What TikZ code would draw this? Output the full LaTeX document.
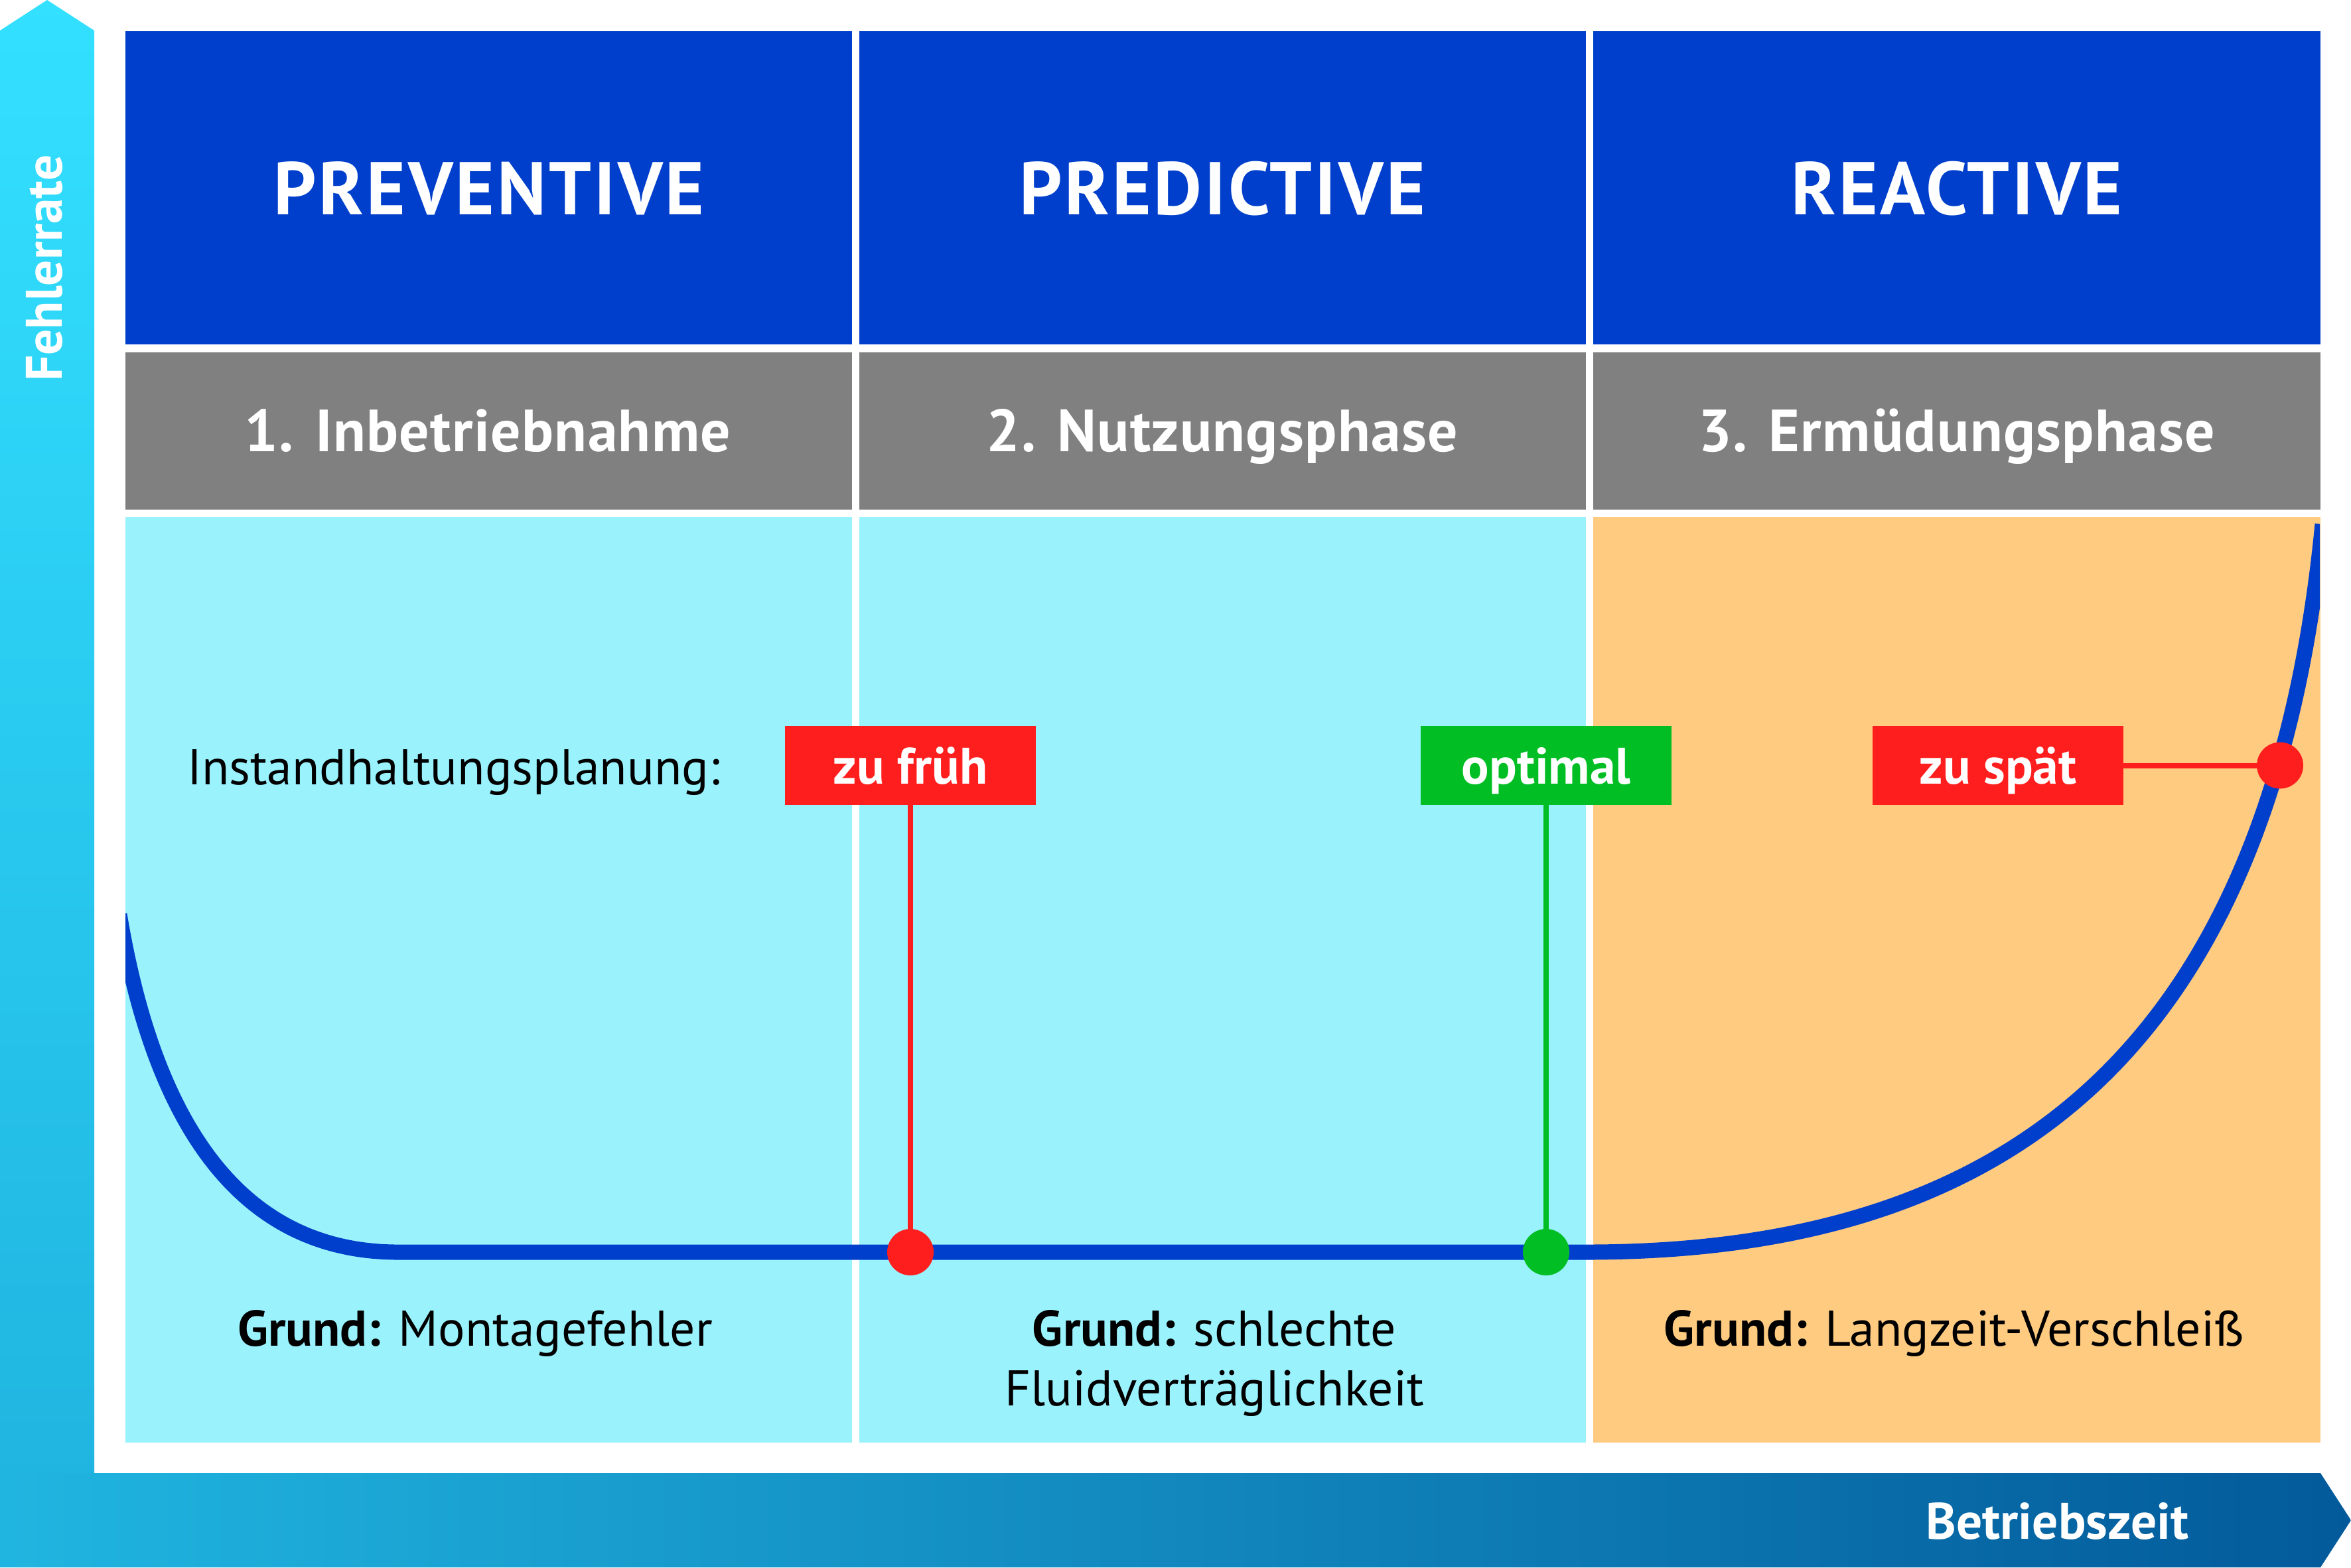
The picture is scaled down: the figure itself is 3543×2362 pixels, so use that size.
\documentclass[tikz,border=0pt]{standalone}
\usepackage{fontspec}
\setmainfont{PT Sans}
\definecolor{hdrblue}{HTML}{003FCC}
\definecolor{graybar}{HTML}{808080}
\definecolor{lightcyan}{HTML}{9AF2FD}
\definecolor{lightorange}{HTML}{FECB80}
\definecolor{mred}{HTML}{FF1E1E}
\definecolor{mgreen}{HTML}{00BE23}
\definecolor{axtop}{HTML}{33E0FF}
\definecolor{axcorner}{HTML}{20B5E0}
\definecolor{axend}{HTML}{035A9B}
\begin{document}
\begin{tikzpicture}[x=0.01cm,y=-0.01cm,
  every node/.style={inner sep=0pt, outer sep=0pt},
  hdrcell/.style={fill=hdrblue, minimum width=10.94cm, minimum height=4.72cm, anchor=north west},
  graycell/.style={fill=graybar, minimum width=10.94cm, minimum height=2.37cm, anchor=north west},
  bodycell/.style={minimum width=10.94cm, minimum height=13.94cm, anchor=north west},
  hdrtxt/.style={anchor=base, text=white, font=\bfseries\fontsize{32}{38}\selectfont\addfontfeature{LetterSpace=3.5}},
  phasetxt/.style={anchor=base, text=white, font=\bfseries\fontsize{25.5}{30}\selectfont\addfontfeature{LetterSpace=1.5}},
  tagbox/.style={minimum width=3.78cm, minimum height=1.19cm, text height=16pt, text depth=0pt, text=white, font=\bfseries\fontsize{22}{26}\selectfont},
  axtxt/.style={text=white, font=\bfseries\fontsize{22}{26}\selectfont},
  bodytxt/.style={anchor=base, text=black, font=\fontsize{21.5}{26}\selectfont},
  curve/.style={draw=hdrblue, line width=6.54pt},
  pin/.style={line width=2.28pt},
  dot/.style={circle, minimum size=0.70cm}
]
\useasboundingbox (0,0) rectangle (3543,2362);
\fill[white] (0,0) rectangle (3543,2362);

% axes
\shade[top color=axtop, bottom color=axcorner] (0,46) -- (71,0) -- (142,46) -- (142,2220) -- (0,2220) -- cycle;
\shade[left color=axcorner, right color=axend] (0,2220) -- (3497,2220) -- (3543,2291) -- (3497,2362) -- (0,2362) -- cycle;
\node[axtxt, rotate=90, anchor=base] (yl) at (93,404) {Fehlerrate};
\node[axtxt, anchor=base east] (xl) at (3298,2319) {Betriebszeit};

% header cells
\node[hdrcell] (h1) at (189,47) {};
\node[hdrcell] (h2) at (1295,47) {};
\node[hdrcell, minimum width=10.95cm] (h3) at (2401,47) {};
\node[hdrtxt] (ht1) at (737,323) {PREVENTIVE};
\node[hdrtxt] (ht2) at (1842,323) {PREDICTIVE};
\node[hdrtxt] (ht3) at (2949,323) {REACTIVE};

% phase cells
\node[graycell] (p1) at (189,531) {};
\node[graycell] (p2) at (1295,531) {};
\node[graycell, minimum width=10.95cm] (p3) at (2401,531) {};
\node[phasetxt] (pt1) at (735,680) {1. Inbetriebnahme};
\node[phasetxt] (pt2) at (1842,680) {2. Nutzungsphase};
\node[phasetxt] (pt3) at (2949,680) {3. Ermüdungsphase};

% body cells
\node[bodycell, fill=lightcyan] (b1) at (189,779) {};
\node[bodycell, fill=lightcyan] (b2) at (1295,779) {};
\node[bodycell, fill=lightorange, minimum width=10.95cm] (b3) at (2401,779) {};

% bathtub curve
\begin{scope}
\clip (189,779) rectangle (3496,2173);
\draw[curve] (180,1378) .. controls (228,1665) and (345,1887) .. (600,1887)
  -- (2390,1887) .. controls (3000,1887) and (3420,1610) .. (3500,790);
\end{scope}

% texts
\node[bodytxt, anchor=base west] (plan) at (282,1182) {Instandhaltungsplanung:};
\node[bodytxt] (g1) at (716,2028) {\textbf{Grund:} Montagefehler};
\node[bodytxt] (g2a) at (1830,2028) {\textbf{Grund:} schlechte};
\node[bodytxt] (g2b) at (1830,2118) {Fluidverträglichkeit};
\node[bodytxt] (g3) at (2945,2028) {\textbf{Grund:} Langzeit-Verschleiß};

% tags and markers
\node[tagbox, fill=mred] (early) at (1372,1153.5) {zu früh};
\node[tagbox, fill=mgreen] (opt) at (2330,1153.5) {optimal};
\node[tagbox, fill=mred] (late) at (3011,1153.5) {zu spät};
\node[dot] (d1) at (1372,1887) {};
\node[dot] (d2) at (2330,1887) {};
\node[dot] (d3) at (3436,1153.5) {};
\draw[pin, mred] (early.south) -- (d1.center);
\draw[pin, mgreen] (opt.south) -- (d2.center);
\draw[pin, mred] (late.east) -- (d3.center);
\fill[mred] (d1) circle (35);
\fill[mgreen] (d2) circle (35);
\fill[mred] (d3) circle (35);
\end{tikzpicture}
\end{document}
